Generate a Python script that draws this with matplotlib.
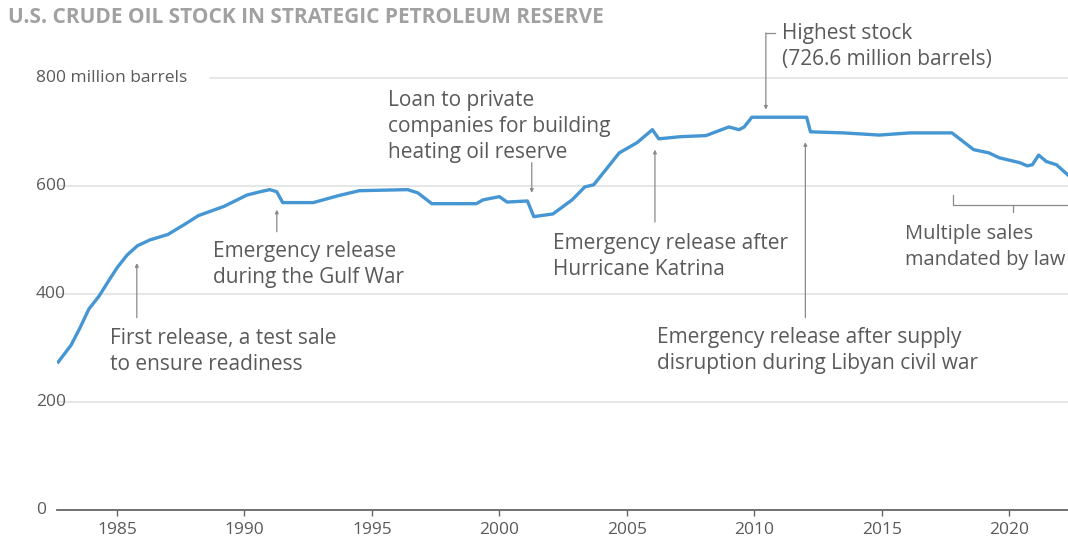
import matplotlib

matplotlib.use("Agg")
import matplotlib.pyplot as plt
from matplotlib.transforms import blended_transform_factory

plt.rcParams["font.family"] = ["Open Sans", "DejaVu Sans"]

# SPR crude stock, million barrels
years = [1982.7, 1983.2, 1983.55, 1983.9, 1984.3, 1984.7, 1985.0, 1985.4, 1985.8,
         1986.3, 1987.0, 1987.7, 1988.2, 1989.2, 1990.1, 1990.7, 1991.0, 1991.27,
         1991.5, 1992.7, 1993.7, 1994.5, 1996.4, 1996.8, 1997.35, 1999.1, 1999.35,
         2000.0, 2000.3, 2001.1, 2001.35, 2002.1, 2002.85, 2003.35, 2003.7, 2004.7,
         2005.4, 2006.0, 2006.25, 2007.1, 2008.1, 2009.0, 2009.4, 2009.6, 2009.9,
         2012.05, 2012.2, 2013.5, 2014.9, 2016.1, 2017.75, 2018.6, 2019.2, 2019.6,
         2020.4, 2020.7, 2020.9, 2021.15, 2021.45, 2021.85, 2022.3]
stock = [274, 305, 337, 372, 396, 426, 448, 472, 489,
         500, 510, 530, 545, 562, 583, 590, 593, 589,
         569, 569, 582, 591, 593, 587, 567, 567, 574,
         580, 570, 572, 543, 548, 574, 598, 602, 661,
         680, 704, 687, 691, 693, 709, 704, 709, 727,
         727, 700, 698, 694, 698, 698, 667, 661, 652,
         643, 637, 639, 657, 645, 639, 620]

x_ticks = [1985, 1990, 1995, 2000, 2005, 2010, 2015, 2020]
y_ticks = [0, 200, 400, 600, 800]
y_labels = ["0", "200", "400", "600", "800 million barrels"]

TEXT = "#5a5a5a"
GRID = "#e2e2e2"
LINE = "#4596d2"
ARROW = "#8a8a8a"

fig = plt.figure(figsize=(10.68, 5.44), dpi=100, facecolor="white")
ax = fig.add_axes([57 / 1068, 1 - 510 / 544, 1 - 57 / 1068, 510 / 544])
ax.set_xlim(1982.65, 2022.3)
ax.set_ylim(0, 944)
ax.patch.set_alpha(0)

for v in y_ticks[1:-1]:
    ax.axhline(v, color=GRID, lw=1.2, zorder=0)
ax.axhline(800, xmin=(210 - 57) / 1011, color=GRID, lw=1.2, zorder=0)

lab_tr = blended_transform_factory(fig.transFigure, ax.transData)
for v, s in zip(y_ticks, y_labels):
    ax.text(36 / 1068, v, s, transform=lab_tr, ha="left", va="center",
            fontsize=12.5, color=TEXT)

ax.plot(years, stock, color=LINE, lw=2.4, solid_joinstyle="round", zorder=3)

for side in ("top", "right", "left"):
    ax.spines[side].set_visible(False)
ax.spines["bottom"].set_color("#666666")
ax.spines["bottom"].set_linewidth(1.3)
ax.set_yticks([])
ax.set_xticks(x_ticks)
ax.tick_params(axis="x", length=4, width=1, color="#666666", labelcolor=TEXT,
               labelsize=12.5, pad=5)

arrow = dict(arrowstyle="-|>", color=ARROW, lw=0.9, mutation_scale=5,
             shrinkA=0, shrinkB=0)
txt = dict(fontsize=15, color=TEXT, ha="left", va="top", linespacing=1.3)

# (text, text x, text top y, arrow x, arrow from y, arrow to y)
notes = [
    ("First release, a test sale\nto ensure readiness", 1984.73, 337, 1985.78, 356, 457),
    ("Emergency release\nduring the Gulf War", 1988.76, 497, 1991.27, 515, 556),
    ("Loan to private\ncompanies for building\nheating oil reserve", 1995.63, 777, 2001.27, 643, 587),
    ("Emergency release after\nHurricane Katrina", 2002.1, 512, 2006.1, 533, 667),
    ("Emergency release after supply\ndisruption during Libyan civil war", 2006.2, 338, 2012.0, 356, 681),
]
for s, tx, ty, ax_x, y0, y1 in notes:
    ax.text(tx, ty, s, **txt)
    ax.annotate("", xy=(ax_x, y1), xytext=(ax_x, y0), arrowprops=arrow)

# highest stock, elbow pointer
ax.text(2011.1, 901, "Highest stock\n(726.6 million barrels)", **txt)
ax.plot([2010.45, 2010.8], [883, 883], color=ARROW, lw=0.9)
ax.annotate("", xy=(2010.45, 741), xytext=(2010.45, 883), arrowprops=arrow)

# bracket for mandated sales (text squeezed a touch so it stays on canvas)
ax.text(2015.9, 529, "Multiple sales\nmandated by law",
        **{**txt, "fontsize": 14.4, "linespacing": 1.36})
ax.plot([2017.78, 2017.78, 2022.3], [583, 565, 565], color=ARROW, lw=0.9)
ax.plot([2020.14, 2020.14], [565, 552], color=ARROW, lw=0.9)

fig.text(8 / 1068, 1 - 23 / 544, "U.S. CRUDE OIL STOCK IN STRATEGIC PETROLEUM RESERVE",
         fontsize=15, fontweight="bold", color="#444444", va="baseline", alpha=0.5)

fig.savefig("out.png", dpi=100, facecolor="white")
